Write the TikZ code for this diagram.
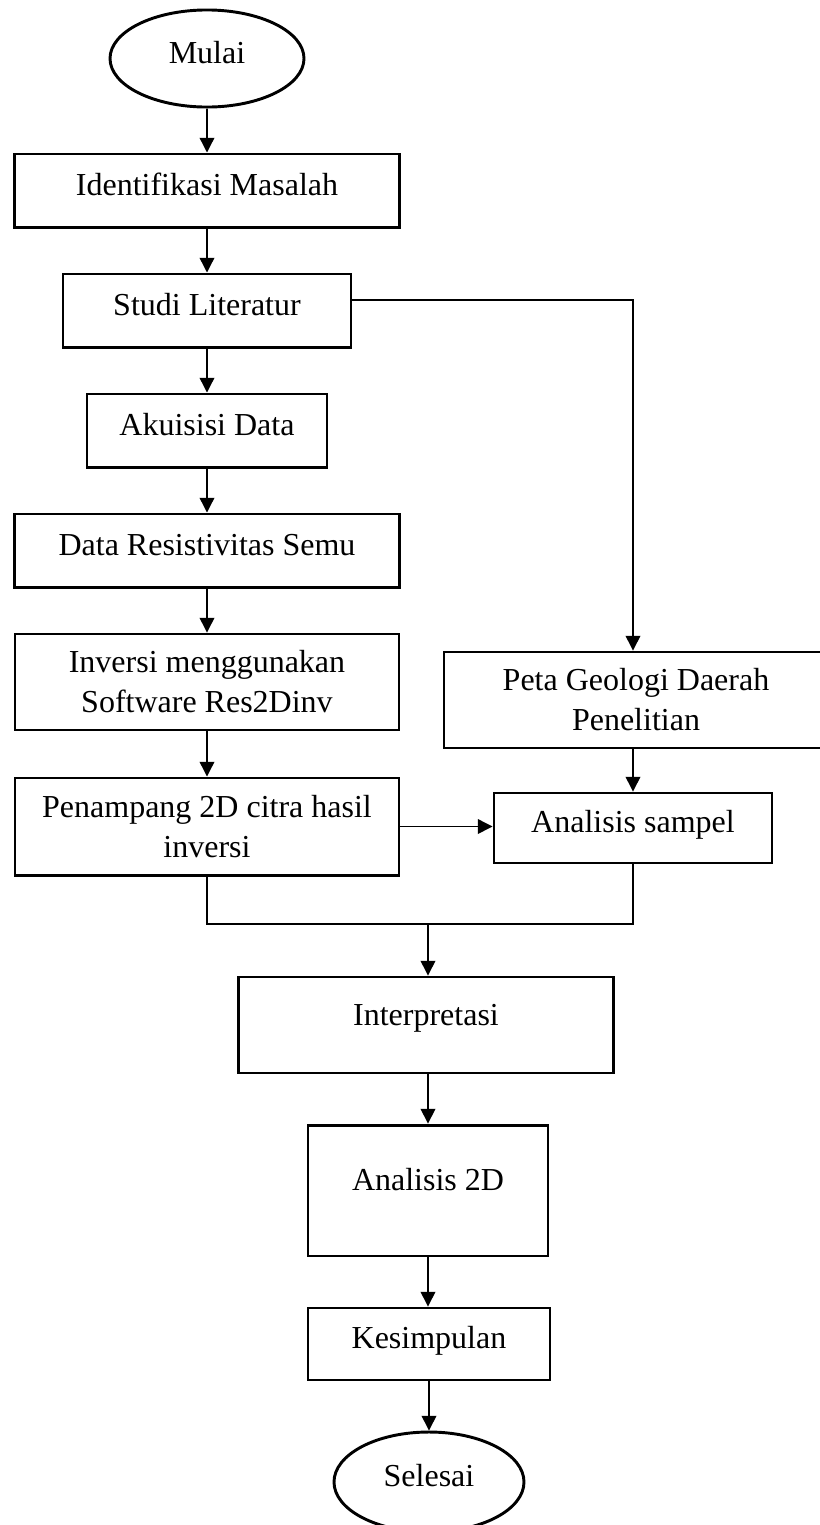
\documentclass[tikz,border=0pt]{standalone}
\usepackage{fontspec}
\setmainfont{Liberation Serif}
\usetikzlibrary{shapes.geometric,arrows.meta}

\tikzset{
  proses/.style={draw, rectangle, line width=1.1pt, inner sep=0pt, align=center,
    font=\fontsize{12}{15}\selectfont},
  terminal/.style={draw, ellipse, line width=1.1pt, inner sep=0pt,
    font=\fontsize{12}{15}\selectfont, text height=8pt, text depth=4.6pt},
  satu/.style={text height=8pt, text depth=4.6pt},
  atas/.style={text height=8pt, text depth=8pt},
  panah/.style={-{Triangle[width=5.5pt,length=5.5pt]}, line width=0.5pt},
  garis/.style={line width=0.5pt}
}

\begin{document}
\begin{tikzpicture}[x=0.375pt, y=-0.375pt]
\useasboundingbox (0,0) rectangle (819,1525);
% kolom kiri
\node (mulai) [terminal, minimum width=72.75pt, minimum height=36.4pt] at (207,58.5) {Mulai};
\node (ident) [proses, satu, minimum width=144.4pt, minimum height=27.4pt] at (207,190.5) {Identifikasi Masalah};
\node (studi) [proses, satu, minimum width=108pt, minimum height=27.4pt] at (207,310.5) {Studi Literatur};
\node (akuisisi) [proses, satu, minimum width=90pt, minimum height=27.4pt] at (207,430.5) {Akuisisi Data};
\node (datares) [proses, satu, minimum width=144.4pt, minimum height=27.4pt] at (207,550.5) {Data Resistivitas Semu};
\node (inversi) [proses, minimum width=144pt, minimum height=36pt] at (207,682) {Inversi menggunakan\\Software Res2Dinv};
\node (penampang) [proses, minimum width=144pt, minimum height=36.4pt] at (207,826.5) {Penampang 2D citra hasil\\inversi};
% kolom kanan
\node (peta) [proses, minimum width=144pt, minimum height=36pt] at (636,700) {Peta Geologi Daerah\\Penelitian};
\node (sampel) [proses, satu, minimum width=104.25pt, minimum height=26.25pt] at (633,828) {Analisis sampel};
% bawah
\coordinate (gabung) at (428,924);
\node (interp) [proses, atas, minimum width=140.6pt, minimum height=36pt] at (426,1025) {Interpretasi};
\node (analisis) [proses, atas, minimum width=90pt, minimum height=49.1pt] at (428,1190.5) {Analisis 2D};
\node (kesimpulan) [proses, satu, minimum width=90.75pt, minimum height=27pt] at (429,1344) {Kesimpulan};
\node (selesai) [terminal, minimum width=71.25pt, minimum height=37.5pt] at (429,1482) {Selesai};

\path[panah]
(mulai) edge (ident)
(ident) edge (studi)
(studi) edge (akuisisi)
(akuisisi) edge (datares)
(datares) edge (inversi)
(inversi) edge (penampang)
(penampang.east) edge (penampang.east -| sampel.west)
(peta.south -| sampel) edge (sampel)
(interp.south -| gabung) edge (analisis.north -| gabung)
(analisis.south -| gabung) edge (kesimpulan.north -| gabung)
(kesimpulan) edge (selesai);
\draw[panah] ([yshift=3.9pt]studi.east) -| (peta.north -| 633,0);
\draw[garis] (penampang.south) |- (gabung) -| (sampel.south);
\draw[panah] (gabung) -- (gabung |- interp.north);
\end{tikzpicture}
\end{document}
